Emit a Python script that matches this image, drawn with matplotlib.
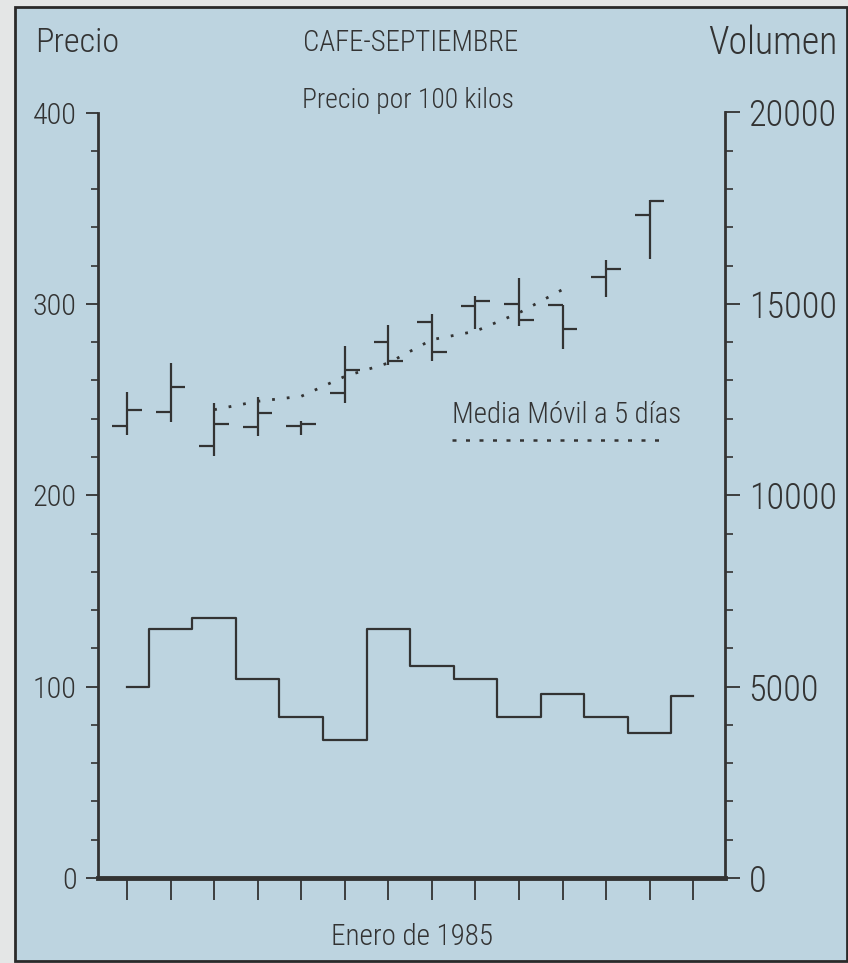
import matplotlib
matplotlib.use('Agg')
import matplotlib.pyplot as plt
from matplotlib.patches import Rectangle
from matplotlib.ticker import MultipleLocator
from matplotlib import font_manager

# ---- data ----
days = list(range(1, 15))
bar_days = days[:13]
open_ = [236.0, 243.5, 225.5, 235.8, 236.3, 253.4, 280.1, 290.4, 298.7, 300.0, 299.2, 314.1, 346.3]
high = [254.0, 269.1, 248.2, 251.1, 239.0, 277.8, 289.2, 294.9, 303.9, 313.6, 299.2, 323.1, 354.5]
low = [231.3, 238.3, 220.7, 230.7, 231.3, 248.2, 267.8, 270.0, 286.9, 288.3, 276.6, 303.6, 323.5]
close = [244.5, 256.4, 237.2, 243.1, 237.4, 265.6, 270.2, 274.7, 301.7, 291.4, 286.7, 318.4, 353.8]
ma_days = days[2:11]
ma = [244.7, 249.1, 251.7, 262.1, 269.1, 281.3, 285.7, 295.3, 307.5]
volume = [5000, 6500, 6800, 5200, 4200, 3600, 6500, 5550, 5200, 4200, 4800, 4200, 3800, 4750]
price_ticks = [0, 100, 200, 300, 400]
vol_ticks = [0, 5000, 10000, 15000, 20000]

# pick the narrowest available family
names = {f.name for f in font_manager.fontManager.ttflist}
cands = ['Liberation Sans Narrow', 'DejaVu Sans Condensed', 'Roboto Condensed',
         'Open Sans Condensed', 'Noto Sans Condensed', 'Noto Sans ExtraCondensed',
         'Roboto', 'DejaVu Sans']
FAM = next((c for c in cands if c in names), 'DejaVu Sans')
FONT = [FAM, 'DejaVu Sans']
INK = '#333333'
BG = '#bdd4e0'
WEIGHT = 'light'

plt.rcParams['font.family'] = FONT
plt.rcParams['font.weight'] = WEIGHT

W, H = 848, 963
fig = plt.figure(figsize=(W / 100, H / 100), dpi=100)
fig.patch.set_facecolor('#e4e6e6')
frame = Rectangle((15 / W, 2 / H), (847 - 15) / W, (956 - 2) / H,
                  transform=fig.transFigure, facecolor=BG,
                  edgecolor='#2a2a2a', lw=2.0, zorder=-10)
fig.patches.append(frame)

ax = fig.add_axes([97.5 / W, 1 - 878 / H, (725 - 97.5) / W, (878 - 112.5) / H])
ax2 = ax.twinx()
for a in (ax, ax2):
    a.patch.set_visible(False)
    a.spines['top'].set_visible(False)

ax.set_xlim(0.322, 14.73)
ax.set_ylim(0, 400)
ax2.set_ylim(0, 20000)

# OHLC bars
hw = 0.34
for d, o, h, l, c in zip(bar_days, open_, high, low, close):
    ax.plot([d, d], [l, h], color=INK, lw=1.6, solid_capstyle='butt')
    ax.plot([d - hw, d], [o, o], color=INK, lw=1.6, solid_capstyle='butt')
    ax.plot([d, d + hw], [c, c], color=INK, lw=1.6, solid_capstyle='butt')

# moving average
ax.plot(ma_days, ma, color=INK, lw=2.0, linestyle=(0, (1.0, 4.3)))

# volume step
ax2.step(days, volume, where='mid', color=INK, lw=1.6)

renderer = fig.canvas.get_renderer()


def fit_size(s, target_w, base=20):
    t = fig.text(0, 0, s, fontsize=base, fontweight=WEIGHT)
    w = t.get_window_extent(renderer).width
    t.remove()
    return base * target_w / w


def ftext(xpx, ypx, s, target_w, ha, maxsize=32):
    size = min(fit_size(s, target_w * 1.08), maxsize)
    return fig.text(xpx / W, 1 - ypx / H, s, fontsize=size, color=INK,
                    ha=ha, va='center', fontweight=WEIGHT)


# legend text + dotted line
ftext(452, 415, 'Media Móvil a 5 días', 212, 'left')
fig.add_artist(plt.Line2D([452 / W, 667 / W], [1 - 440 / H, 1 - 440 / H],
                          transform=fig.transFigure, color=INK, lw=1.8,
                          linestyle=(0, (1.6, 3.8))))

# titles
ftext(35, 43, 'Precio', 78, 'left')
ftext(411, 43, 'CAFE-SEPTIEMBRE', 200, 'center')
ftext(838, 43, 'Volumen', 120, 'right')
ftext(408, 100, 'Precio por 100 kilos', 196, 'center')
ftext(412, 937, 'Enero de 1985', 150, 'center')

# spines & ticks
ax.spines['left'].set_linewidth(2.0)
ax.spines['bottom'].set_linewidth(3.5)
ax2.spines['right'].set_linewidth(2.0)
ax.spines['right'].set_visible(False)
ax2.spines['left'].set_visible(False)
ax2.spines['bottom'].set_visible(False)
for s in ('left', 'bottom'):
    ax.spines[s].set_color(INK)
ax2.spines['right'].set_color(INK)

ax.set_xticks(days)
ax.set_xticklabels([])
ax.tick_params(axis='x', direction='out', length=16, width=1.3, color=INK)

lsize_left = min(fit_size('400', 44), 28)
lsize_right = min(fit_size('20000', 88), 28)

ax.set_yticks(price_ticks)
ax.set_yticklabels([str(v) for v in price_ticks])
ax.yaxis.set_minor_locator(MultipleLocator(20))
ax.tick_params(axis='y', which='major', direction='out', length=9, width=1.3,
               color=INK, labelsize=lsize_left, labelcolor=INK, pad=6)
ax.tick_params(axis='y', which='minor', direction='out', length=5, width=1.2, color=INK)

ax2.set_yticks(vol_ticks)
ax2.set_yticklabels([str(v) for v in vol_ticks])
ax2.yaxis.set_minor_locator(MultipleLocator(1000))
ax2.tick_params(axis='y', which='major', direction='out', length=11, width=1.3,
                color=INK, labelsize=lsize_right, labelcolor=INK, pad=6)
ax2.tick_params(axis='y', which='minor', direction='out', length=6, width=1.2, color=INK)
for lab in ax.get_yticklabels() + ax2.get_yticklabels():
    lab.set_fontweight(WEIGHT)

fig.savefig('out.png', dpi=100, facecolor=fig.get_facecolor())
